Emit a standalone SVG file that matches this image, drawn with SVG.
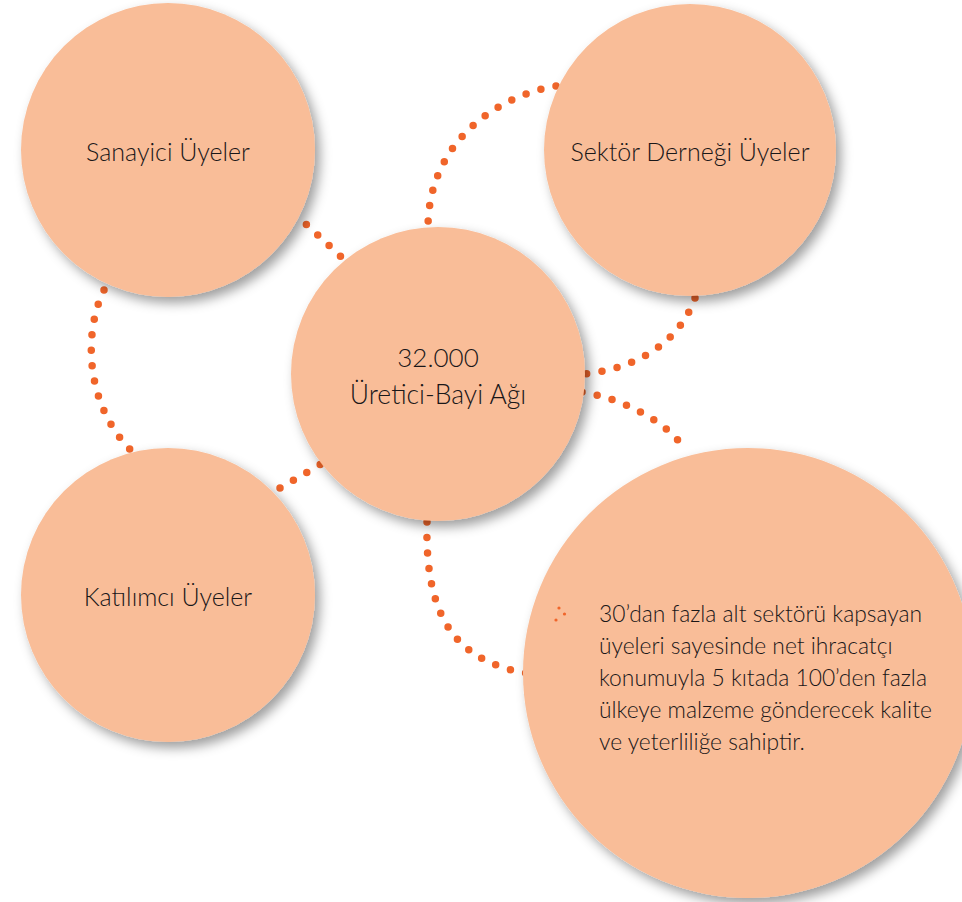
<svg xmlns="http://www.w3.org/2000/svg" width="962" height="902" viewBox="0 0 962 902">
<defs>
<filter id="sh" x="-20%" y="-20%" width="150%" height="150%">
<feDropShadow dx="5" dy="6" stdDeviation="6" flood-color="#000" flood-opacity="0.38"/>
</filter>
<style>
.c{fill:#F9BD98;filter:url(#sh)}
.d{fill:none;stroke:#F0652A;stroke-width:7.5;stroke-linecap:round;stroke-dasharray:0 15.5}
.t{font-family:Lato,"Noto Sans",sans-serif;font-weight:300;font-size:25px;fill:#1A1718;text-anchor:middle}
.b{font-family:Lato,"Noto Sans",sans-serif;font-weight:300;font-size:22.8px;fill:#1A1718}
.bl{fill:#F0652A}
</style>
</defs>
<rect width="962" height="902" fill="#fff"/>
<g id="connectors">
<path class="d" d="M 295 214 L 350 265"/>
<path class="d" d="M 104 290 C 82 335, 86 410, 136 455"/>
<path class="d" d="M 556 86 C 500 95, 428 140, 428 228"/>
<path class="d" d="M 695 298 C 680 340, 640 368, 585 374"/>
<path class="d" d="M 582 392 C 620 398, 665 420, 684 448"/>
<path class="d" d="M 427 522 C 425 610, 450 660, 526 673"/>
<path class="d" d="M 280 488 L 328 460"/>
</g>
<g id="sanayici">
<circle class="c" cx="168" cy="150" r="147"/>
<text class="t" x="168" y="161">Sanayici Üyeler</text>
</g>
<g id="sektor">
<circle class="c" cx="690" cy="150" r="146"/>
<text class="t" x="690" y="161">Sektör Derneği Üyeler</text>
</g>
<g id="katilimci">
<circle class="c" cx="168" cy="595" r="147"/>
<text class="t" x="168" y="606">Katılımcı Üyeler</text>
</g>
<g id="merkez">
<circle class="c" cx="438" cy="374" r="147"/>
<text class="t" x="438" y="367" style="font-size:26px">32.000</text>
<text class="t" x="438" y="404" style="font-size:26.5px">Üretici-Bayi Ağı</text>
</g>
<g id="aciklama">
<circle class="c" cx="748" cy="673" r="225"/>
<circle class="bl" cx="559" cy="608" r="1.6"/>
<circle class="bl" cx="564.5" cy="614" r="1.6"/>
<circle class="bl" cx="556" cy="620" r="1.6"/>
<text class="b" x="599" y="622">30’dan fazla alt sektörü kapsayan</text>
<text class="b" x="599" y="654">üyeleri sayesinde net ihracatçı</text>
<text class="b" x="599" y="686">konumuyla 5 kıtada 100’den fazla</text>
<text class="b" x="599" y="718">ülkeye malzeme gönderecek kalite</text>
<text class="b" x="599" y="750">ve yeterliliğe sahiptir.</text>
</g>
</svg>
